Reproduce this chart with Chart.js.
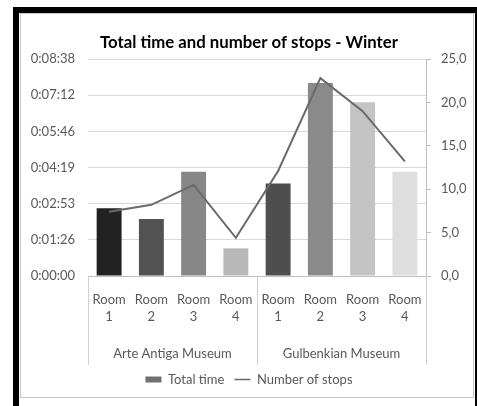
<!DOCTYPE html>
<html>
<head>
<meta charset="utf-8">
<script src="https://cdn.jsdelivr.net/npm/chart.js@4/dist/chart.umd.min.js"></script>
<style>
  html, body { margin: 0; padding: 0; background: #fff; }
  body { width: 477px; height: 406px; position: relative; overflow: hidden; }
  .frame { position: absolute; left: 13px; top: 7px; width: 464px; height: 399px; background: #000; }
  .gap { position: absolute; left: 19px; top: 13px; width: 456px; height: 393px; background: #fff; }
  .panel { position: absolute; left: 20px; top: 13px; width: 452px; height: 383px; border: 1px solid #c8c8c8; background: #fff; }
  #wrap { position: absolute; left: 0; top: 0; width: 477px; height: 406px; }
</style>
</head>
<body>
<div class="frame"></div>
<div class="gap"></div>
<div class="panel"></div>
<div id="wrap"><canvas id="winterChart"></canvas></div>
<script>
const rooms = [['Room', '1'], ['Room', '2'], ['Room', '3'], ['Room', '4'],
               ['Room', '1'], ['Room', '2'], ['Room', '3'], ['Room', '4']];
const museums = ['Arte Antiga Museum', 'Gulbenkian Museum'];
const roomsPerMuseum = 4;

// total time in seconds
const totalTime = [162, 136, 249, 66, 221, 461, 415, 249];
// number of stops
const numberOfStops = [7.4, 8.2, 10.5, 4.4, 12.1, 22.8, 19.0, 13.2];

const barColors = ['#222222', '#525252', '#878787', '#b8b8b8',
                   '#4e4e4e', '#8a8a8a', '#c4c4c4', '#dedede'];

// left axis: 0.001 day steps (86.4 s)
const timeStep = 86.4;
const timeTickLabels = ['0:00:00', '0:01:26', '0:02:53', '0:04:19', '0:05:46', '0:07:12', '0:08:38'];
const stopTicks = [0, 5, 10, 15, 20, 25];

const labelColor = '#595959';
const font = 'Lato, "Open Sans", sans-serif';

const museumGroups = {
    id: 'museumGroups',
    afterDraw(chart) {
        const ctx = chart.ctx;
        const x = chart.scales.x;
        const area = chart.chartArea;
        const half = (x.getPixelForValue(1) - x.getPixelForValue(0)) / 2;
        const bottom = area.bottom + 89;
        ctx.save();
        ctx.strokeStyle = '#d0d0d0';
        ctx.lineWidth = 1;
        for (let g = 0; g <= museums.length; g++) {
            const i = g * roomsPerMuseum;
            const px = Math.round(x.getPixelForValue(i) - half) + 0.5;
            ctx.beginPath();
            ctx.moveTo(px, area.bottom);
            ctx.lineTo(px, bottom);
            ctx.stroke();
        }
        ctx.fillStyle = labelColor;
        ctx.font = '13px ' + font;
        ctx.textAlign = 'center';
        ctx.textBaseline = 'middle';
        museums.forEach(function (name, g) {
            const a = x.getPixelForValue(g * roomsPerMuseum) - half;
            const b = x.getPixelForValue((g + 1) * roomsPerMuseum - 1) + half;
            ctx.fillText(name, (a + b) / 2, area.bottom + 78);
        });
        ctx.restore();
    }
};

document.addEventListener("DOMContentLoaded", function () {
    const ctx = document.getElementById("winterChart");

    new Chart(ctx, {
        type: 'bar',
        data: {
            labels: rooms,
            datasets: [{
                type: 'bar',
                label: 'Total time',
                data: totalTime,
                yAxisID: 'y',
                backgroundColor: barColors,
                barPercentage: 0.59,
                categoryPercentage: 1,
                order: 1
            }, {
                type: 'line',
                label: 'Number of stops',
                data: numberOfStops,
                yAxisID: 'y2',
                borderColor: '#6a6a6a',
                backgroundColor: '#6a6a6a',
                borderWidth: 2,
                pointRadius: 0,
                tension: 0,
                order: 0
            }]
        },
        options: {
            responsive: true,
            maintainAspectRatio: false,
            animation: false,
            layout: {
                padding: { left: 21, right: 0, top: 33, bottom: 10 }
            },
            plugins: {
                title: {
                    display: true,
                    text: 'Total time and number of stops - Winter',
                    color: '#000',
                    font: { family: font, size: 16.75, weight: 'bold' },
                    padding: { top: 0, bottom: 6 }
                },
                legend: {
                    position: 'bottom',
                    labels: {
                        color: labelColor,
                        font: { family: font, size: 13 },
                        usePointStyle: true,
                        pointStyleWidth: 16,
                        boxHeight: 6,
                        padding: 10,
                        sort: function (a, b) { return a.datasetIndex - b.datasetIndex; },
                        generateLabels: function (chart) {
                            const items = Chart.defaults.plugins.legend.labels.generateLabels(chart);
                            items.forEach(function (it) {
                                if (it.datasetIndex === 0) {
                                    it.fillStyle = '#707070';
                                    it.strokeStyle = '#707070';
                                    it.lineWidth = 0;
                                    it.pointStyle = 'rect';
                                } else {
                                    it.pointStyle = 'line';
                                    it.lineWidth = 1.5;
                                }
                            });
                            return items;
                        }
                    }
                },
                tooltip: { enabled: false }
            },
            scales: {
                x: {
                    grid: { display: false, drawTicks: false },
                    border: { color: '#bfbfbf' },
                    ticks: {
                        color: labelColor,
                        font: { family: font, size: 13, lineHeight: 1.3 },
                        padding: 15,
                        maxRotation: 0,
                        autoSkip: false
                    },
                    afterFit: function (scale) { scale.height = 87; }
                },
                y: {
                    position: 'left',
                    min: 0,
                    max: timeStep * (timeTickLabels.length - 1),
                    grid: { color: '#d9d9d9', drawTicks: false },
                    border: { display: false },
                    ticks: {
                        color: labelColor,
                        font: { family: font, size: 13 },
                        padding: 13,
                        callback: function (v, i) { return timeTickLabels[i]; }
                    },
                    afterBuildTicks: function (axis) {
                        axis.ticks = timeTickLabels.map(function (t, i) { return { value: i * timeStep }; });
                    },
                    afterFit: function (scale) { scale.width = 67; }
                },
                y2: {
                    position: 'right',
                    min: 0,
                    max: 25,
                    grid: { drawOnChartArea: false, color: '#bfbfbf', tickLength: 5 },
                    border: { color: '#bfbfbf' },
                    ticks: {
                        color: labelColor,
                        font: { family: font, size: 13 },
                        padding: 10,
                        callback: function (v) { return v.toFixed(1).replace('.', ','); }
                    },
                    afterBuildTicks: function (axis) {
                        axis.ticks = stopTicks.map(function (v) { return { value: v }; });
                    },
                    afterFit: function (scale) { scale.width = 51; }
                }
            }
        },
        plugins: [museumGroups]
    });
});
</script>
</body>
</html>
